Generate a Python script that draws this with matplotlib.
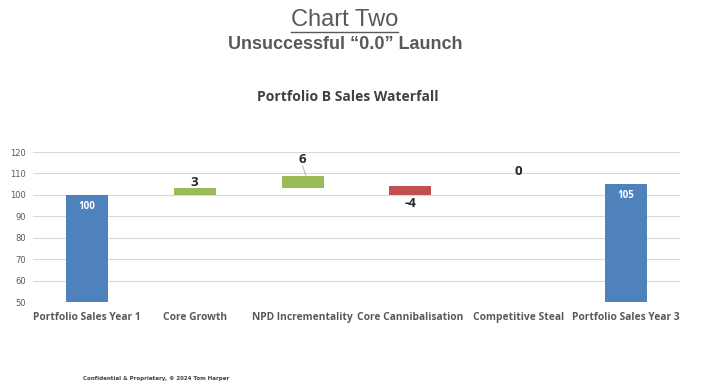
import matplotlib
matplotlib.use("Agg")
import matplotlib.pyplot as plt
from matplotlib.lines import Line2D

# data
categories = ["Portfolio Sales Year 1", "Core Growth", "NPD Incrementality",
              "Core Cannibalisation", "Competitive Steal", "Portfolio Sales Year 3"]
values = [100, 3, 6, -4, 0, 105]
bar_low = [0, 100, 103, 100, 109, 0]
bar_high = [100, 103, 109, 104, 109, 105]
label_y = [94.8, 106.0, 116.4, 96.0, 110.7, 99.5]
kinds = ["total", "up", "up", "down", "up", "total"]

colours = {"total": "#4F81BD", "up": "#9BBB59", "down": "#C0504D"}
txt = "#595959"
body = "Open Sans"

fig = plt.figure(figsize=(7.09, 3.91), dpi=100)
fig.patch.set_facecolor("white")

t1 = fig.text(0.486, 0.948, "Chart Two", ha="center", va="center",
              fontsize=17, color=txt, family="Liberation Sans")
fig.text(0.487, 0.887, "Unsuccessful \u201c0.0\u201d Launch", ha="center", va="center",
         fontsize=13, fontweight="bold", color=txt, family="Liberation Sans")
fig.text(0.49, 0.752, "Portfolio B Sales Waterfall", ha="center", va="center",
         fontsize=10, fontweight="bold", color="#404040", family=body)
fig.text(0.117, 0.031, "Confidential & Proprietary, \u00a9 2024 Tom Harper",
         ha="left", va="center", fontsize=4.0, fontweight="bold", color="#404040",
         family="DejaVu Sans")

# underline for the heading
fig.canvas.draw()
bb = t1.get_window_extent().transformed(fig.transFigure.inverted())
fig.add_artist(Line2D([bb.x0, bb.x1], [bb.y0 - 0.002, bb.y0 - 0.002],
                      color=txt, lw=1.0, transform=fig.transFigure))

ax = fig.add_axes([0.0465, 0.2276, 0.9125, 0.3836])
x = list(range(len(categories)))
heights = [h - l for l, h in zip(bar_low, bar_high)]
ax.bar(x, heights, bottom=bar_low, width=0.39,
       color=[colours[k] for k in kinds], zorder=3)

ax.set_xlim(-0.5, 5.5)
ax.set_ylim(50, 120)
ax.set_yticks(range(50, 121, 10))
ax.grid(axis="y", color="#D9D9D9", lw=0.8, zorder=0)
for s in ax.spines.values():
    s.set_visible(False)
ax.tick_params(length=0)
ax.tick_params(axis="y", labelsize=6, labelcolor=txt, pad=5)
ax.set_xticks(x)
ax.set_xticklabels(categories, fontsize=7.4, fontweight="bold", color=txt,
                   family=body)
ax.tick_params(axis="x", pad=7)

for i, (v, k) in enumerate(zip(values, kinds)):
    if k == "total":
        ax.text(i, label_y[i], str(v), ha="center", va="center", fontsize=7,
                fontweight="bold", color="white", family=body, zorder=4)
    else:
        ax.text(i, label_y[i], str(v), ha="center", va="center", fontsize=9.5,
                fontweight="bold", color="#262626", family=body, zorder=4)

# leader line for the NPD label
ax.plot([2.0, 2.03], [113.6, 109.3], color="#A6A6A6", lw=0.6, zorder=4)

fig.savefig("out.png", dpi=100)
